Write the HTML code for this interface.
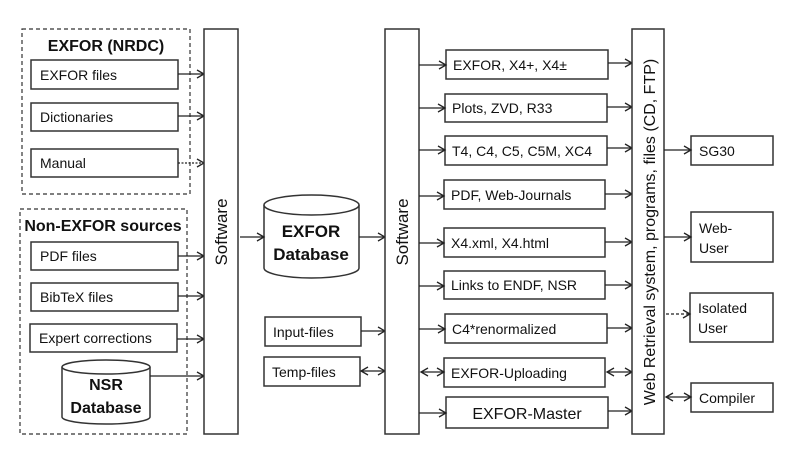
<!DOCTYPE html>
<html><head><meta charset="utf-8"><style>
html,body{margin:0;padding:0;background:#fff}
svg{display:block}
text{font-family:"Liberation Sans",sans-serif;font-size:14px;fill:#111}
.b{font-weight:bold}
rect{fill:#fff;stroke:#333;stroke-width:1.5}
line,path.l{stroke:#222;stroke-width:1.3;fill:none}
</style></head><body>
<svg width="789" height="466" viewBox="0 0 789 466" xmlns="http://www.w3.org/2000/svg">
<defs>
<marker id="a" markerWidth="10" markerHeight="10" refX="8" refY="5" orient="auto-start-reverse" markerUnits="userSpaceOnUse">
<path d="M1,1 L8,5 L1,9" fill="none" stroke="#222" stroke-width="1.3"/></marker>
</defs>
<!-- dashed groups -->
<rect x="22" y="29" width="168" height="165" style="stroke-dasharray:4,3;stroke-width:1.2"/>
<rect x="20" y="209" width="167" height="225" style="stroke-dasharray:4,3;stroke-width:1.2"/>
<text x="106" y="51" text-anchor="middle" class="b" style="font-size:16px">EXFOR (NRDC)</text>
<text x="103" y="231" text-anchor="middle" class="b" style="font-size:16px">Non-EXFOR sources</text>
<rect x="31" y="60" width="147" height="29"/><text x="40" y="80">EXFOR files</text>
<rect x="31" y="103" width="147" height="28"/><text x="40" y="122">Dictionaries</text>
<rect x="31" y="149" width="147" height="28"/><text x="40" y="168">Manual</text>
<rect x="31" y="242" width="147" height="28"/><text x="40" y="261">PDF files</text>
<rect x="31" y="283" width="147" height="28"/><text x="40" y="302">BibTeX files</text>
<rect x="30" y="324" width="147" height="28"/><text x="39" y="343">Expert corrections</text>
<!-- NSR cylinder -->
<path d="M62,367 L62,417 A44,7 0 0 0 150,417 L150,367" style="fill:#fff;stroke:#333;stroke-width:1.5"/>
<ellipse cx="106" cy="367" rx="44" ry="7" style="fill:#fff;stroke:#333;stroke-width:1.5"/>
<text x="106" y="390" text-anchor="middle" class="b" style="font-size:16px">NSR</text>
<text x="106" y="413" text-anchor="middle" class="b" style="font-size:16px">Database</text>
<line x1="178" y1="74" x2="204" y2="74" marker-end="url(#a)"/>
<line x1="178" y1="116" x2="204" y2="116" marker-end="url(#a)"/>
<line x1="178" y1="163" x2="204" y2="163" marker-end="url(#a)" style="stroke-dasharray:2,1.5"/>
<line x1="178" y1="256" x2="204" y2="256" marker-end="url(#a)"/>
<line x1="178" y1="296" x2="204" y2="296" marker-end="url(#a)"/>
<line x1="177" y1="339" x2="204" y2="339" marker-end="url(#a)"/>
<line x1="150" y1="376" x2="204" y2="376" marker-end="url(#a)"/>
<!-- Software 1 -->
<rect x="204" y="29" width="34" height="405"/>
<text transform="translate(227,232) rotate(-90)" text-anchor="middle" style="font-size:17px">Software</text>
<!-- EXFOR Database -->
<path d="M264,205 L264,268 A47.5,10 0 0 0 359,268 L359,205" style="fill:#fff;stroke:#333;stroke-width:1.5"/>
<ellipse cx="311.5" cy="205" rx="47.5" ry="10" style="fill:#fff;stroke:#333;stroke-width:1.5"/>
<text x="311" y="237" text-anchor="middle" class="b" style="font-size:17px">EXFOR</text>
<text x="311" y="260" text-anchor="middle" class="b" style="font-size:17px">Database</text>
<line x1="240" y1="237" x2="264" y2="237" marker-end="url(#a)"/>
<line x1="359" y1="237" x2="385" y2="237" marker-end="url(#a)"/>
<rect x="265" y="317" width="96" height="29"/><text x="273" y="337">Input-files</text>
<rect x="264" y="357" width="96" height="29"/><text x="272" y="377">Temp-files</text>
<line x1="361" y1="331" x2="385" y2="331" marker-end="url(#a)"/>
<line x1="361" y1="371" x2="385" y2="371" marker-start="url(#a)" marker-end="url(#a)"/>
<!-- Software 2 -->
<rect x="385" y="29" width="34" height="405"/>
<text transform="translate(408,232) rotate(-90)" text-anchor="middle" style="font-size:17px">Software</text>
<!-- middle boxes -->
<rect x="446" y="50" width="162" height="29"/><text x="453" y="70">EXFOR, X4+, X4±</text>
<rect x="445" y="94" width="162" height="28"/><text x="452" y="113">Plots, ZVD, R33</text>
<rect x="445" y="136" width="162" height="29"/><text x="452" y="156">T4, C4, C5, C5M, XC4</text>
<rect x="444" y="180" width="161" height="29"/><text x="451" y="200">PDF, Web-Journals</text>
<rect x="444" y="228" width="161" height="29"/><text x="451" y="248">X4.xml, X4.html</text>
<rect x="444" y="271" width="161" height="28"/><text x="451" y="290">Links to ENDF, NSR</text>
<rect x="445" y="314" width="162" height="29"/><text x="452" y="334">C4*renormalized</text>
<rect x="444" y="358" width="161" height="29"/><text x="451" y="378">EXFOR-Uploading</text>
<rect x="446" y="397" width="162" height="31"/><text x="527" y="419" text-anchor="middle" style="font-size:16px">EXFOR-Master</text>
<g>
<line x1="419" y1="65" x2="446" y2="65" marker-end="url(#a)"/>
<line x1="419" y1="108" x2="445" y2="108" marker-end="url(#a)"/>
<line x1="419" y1="150" x2="445" y2="150" marker-end="url(#a)"/>
<line x1="419" y1="196" x2="444" y2="196" marker-end="url(#a)"/>
<line x1="419" y1="243" x2="444" y2="243" marker-end="url(#a)"/>
<line x1="419" y1="286" x2="444" y2="286" marker-end="url(#a)"/>
<line x1="419" y1="329" x2="445" y2="329" marker-end="url(#a)"/>
<line x1="421" y1="372" x2="444" y2="372" marker-start="url(#a)" marker-end="url(#a)"/>
<line x1="419" y1="413" x2="446" y2="413" marker-end="url(#a)"/>
<line x1="608" y1="63" x2="632" y2="63" marker-end="url(#a)"/>
<line x1="607" y1="107" x2="632" y2="107" marker-end="url(#a)"/>
<line x1="607" y1="148" x2="632" y2="148" marker-end="url(#a)"/>
<line x1="605" y1="194" x2="632" y2="194" marker-end="url(#a)"/>
<line x1="605" y1="242" x2="632" y2="242" marker-end="url(#a)"/>
<line x1="605" y1="285" x2="632" y2="285" marker-end="url(#a)"/>
<line x1="607" y1="328" x2="632" y2="328" marker-end="url(#a)"/>
<line x1="607" y1="372" x2="632" y2="372" marker-start="url(#a)" marker-end="url(#a)"/>
<line x1="608" y1="411" x2="632" y2="411" marker-end="url(#a)"/>
</g>
<!-- Web retrieval -->
<rect x="632" y="29" width="32" height="405"/>
<text transform="translate(655,232) rotate(-90)" text-anchor="middle" style="font-size:16px">Web Retrieval system, programs, files (CD, FTP)</text>
<!-- right -->
<rect x="691" y="136" width="82" height="29"/><text x="699" y="156">SG30</text>
<rect x="691" y="212" width="82" height="50"/><text x="699" y="233">Web-</text><text x="699" y="253">User</text>
<rect x="690" y="293" width="83" height="49"/><text x="698" y="313">Isolated</text><text x="698" y="333">User</text>
<rect x="691" y="383" width="82" height="29"/><text x="699" y="403">Compiler</text>
<line x1="664" y1="150" x2="691" y2="150" marker-end="url(#a)"/>
<line x1="664" y1="237" x2="691" y2="237" marker-end="url(#a)"/>
<line x1="666" y1="314" x2="690" y2="314" marker-end="url(#a)" style="stroke-dasharray:3,2"/>
<line x1="666" y1="397" x2="691" y2="397" marker-start="url(#a)" marker-end="url(#a)"/>
</svg>
</body></html>
